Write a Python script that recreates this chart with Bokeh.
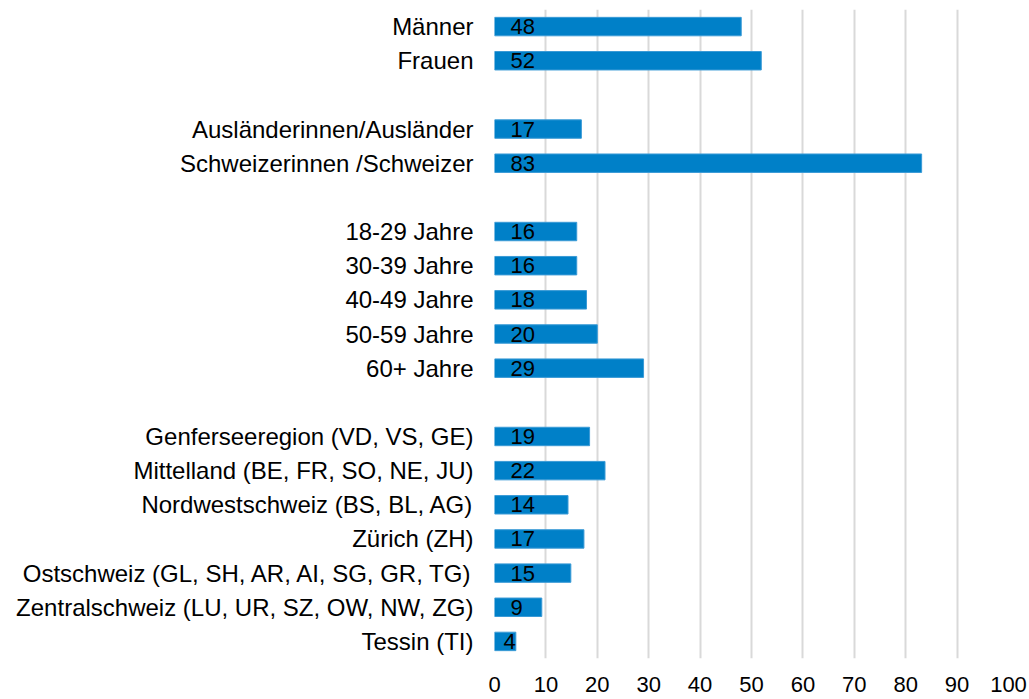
from bokeh.plotting import figure
from bokeh.models import Range1d, FixedTicker, ColumnDataSource, LabelSet
from bokeh.embed import file_html
from bokeh.resources import INLINE
from bokeh.core.properties import value

# Data: groups of categories (top to bottom), separated by an empty row
groups = [
    ["Männer", "Frauen"],
    ["Ausländerinnen/Ausländer", "Schweizerinnen /Schweizer"],
    ["18-29 Jahre", "30-39 Jahre", "40-49 Jahre", "50-59 Jahre", "60+ Jahre"],
    ["Genferseeregion (VD, VS, GE)", "Mittelland (BE, FR, SO, NE, JU)",
     "Nordwestschweiz (BS, BL, AG)", "Zürich (ZH)",
     "Ostschweiz (GL, SH, AR, AI, SG, GR, TG)",
     "Zentralschweiz (LU, UR, SZ, OW, NW, ZG)", "Tessin (TI)"],
]
group_values = [
    [48.0, 51.9],
    [16.9, 83.1],
    [16.0, 16.0, 17.9, 20.0, 29.0],
    [18.5, 21.5, 14.3, 17.4, 14.85, 9.2, 4.15],
]
group_labels = [
    ["48", "52"],
    ["17", "83"],
    ["16", "16", "18", "20", "29"],
    ["19", "22", "14", "17", "15", "9", "4"],
]
x_ticks = [0, 10, 20, 30, 40, 50, 60, 70, 80, 90, 100]

cats, vals, labs, pos = [], [], [], []
idx = 0
for gi, g in enumerate(groups):
    if gi > 0:
        idx += 1
    for c, v, l in zip(g, group_values[gi], group_labels[gi]):
        cats.append(c)
        vals.append(v)
        labs.append(l)
        pos.append(idx)
        idx += 1
n_slots = idx

offsets = [16 if v > 6 else 9 for v in vals]
src = ColumnDataSource(dict(y=pos, v=vals, lab=labs, x0=[0] * len(vals), off=offsets))

p = figure(width=1029, height=699, output_backend="svg", toolbar_location=None,
           x_range=Range1d(0, 100), y_range=Range1d(n_slots - 0.5, -0.5),
           min_border_left=494, min_border_right=21, min_border_top=9,
           min_border_bottom=41)
p.outline_line_color = None
p.background_fill_color = "white"

p.hbar(y="y", right="v", left=0, height=0.54, source=src,
       fill_color="#0080C8", line_color="#3A9AD6", line_width=1)

labels = LabelSet(x="x0", y="y", text="lab", x_offset="off", source=src,
                  text_font=value("Liberation Sans"), text_font_size="22px",
                  text_color="black", text_baseline="middle", text_align="left")
p.add_layout(labels)

# axes
p.yaxis.ticker = FixedTicker(ticks=pos)
p.yaxis.major_label_overrides = {pp: c for pp, c in zip(pos, cats)}
p.yaxis.axis_line_color = None
p.yaxis.major_tick_line_color = None
p.yaxis.minor_tick_line_color = None
p.yaxis.major_label_standoff = 15
p.yaxis.major_label_text_font = "Liberation Sans"
p.yaxis.major_label_text_font_size = "24px"
p.yaxis.major_label_text_color = "black"

p.xaxis.ticker = FixedTicker(ticks=x_ticks)
p.xaxis.axis_line_color = None
p.xaxis.major_tick_line_color = None
p.xaxis.minor_tick_line_color = None
p.xaxis.major_label_standoff = 12
p.xaxis.major_label_text_font = "Liberation Sans"
p.xaxis.major_label_text_font_size = "22px"
p.xaxis.major_label_text_color = "black"

p.ygrid.grid_line_color = None
p.xgrid.grid_line_color = "#D9D9D9"
p.xgrid.grid_line_width = 2

open("out.html", "w").write(file_html(p, INLINE))
